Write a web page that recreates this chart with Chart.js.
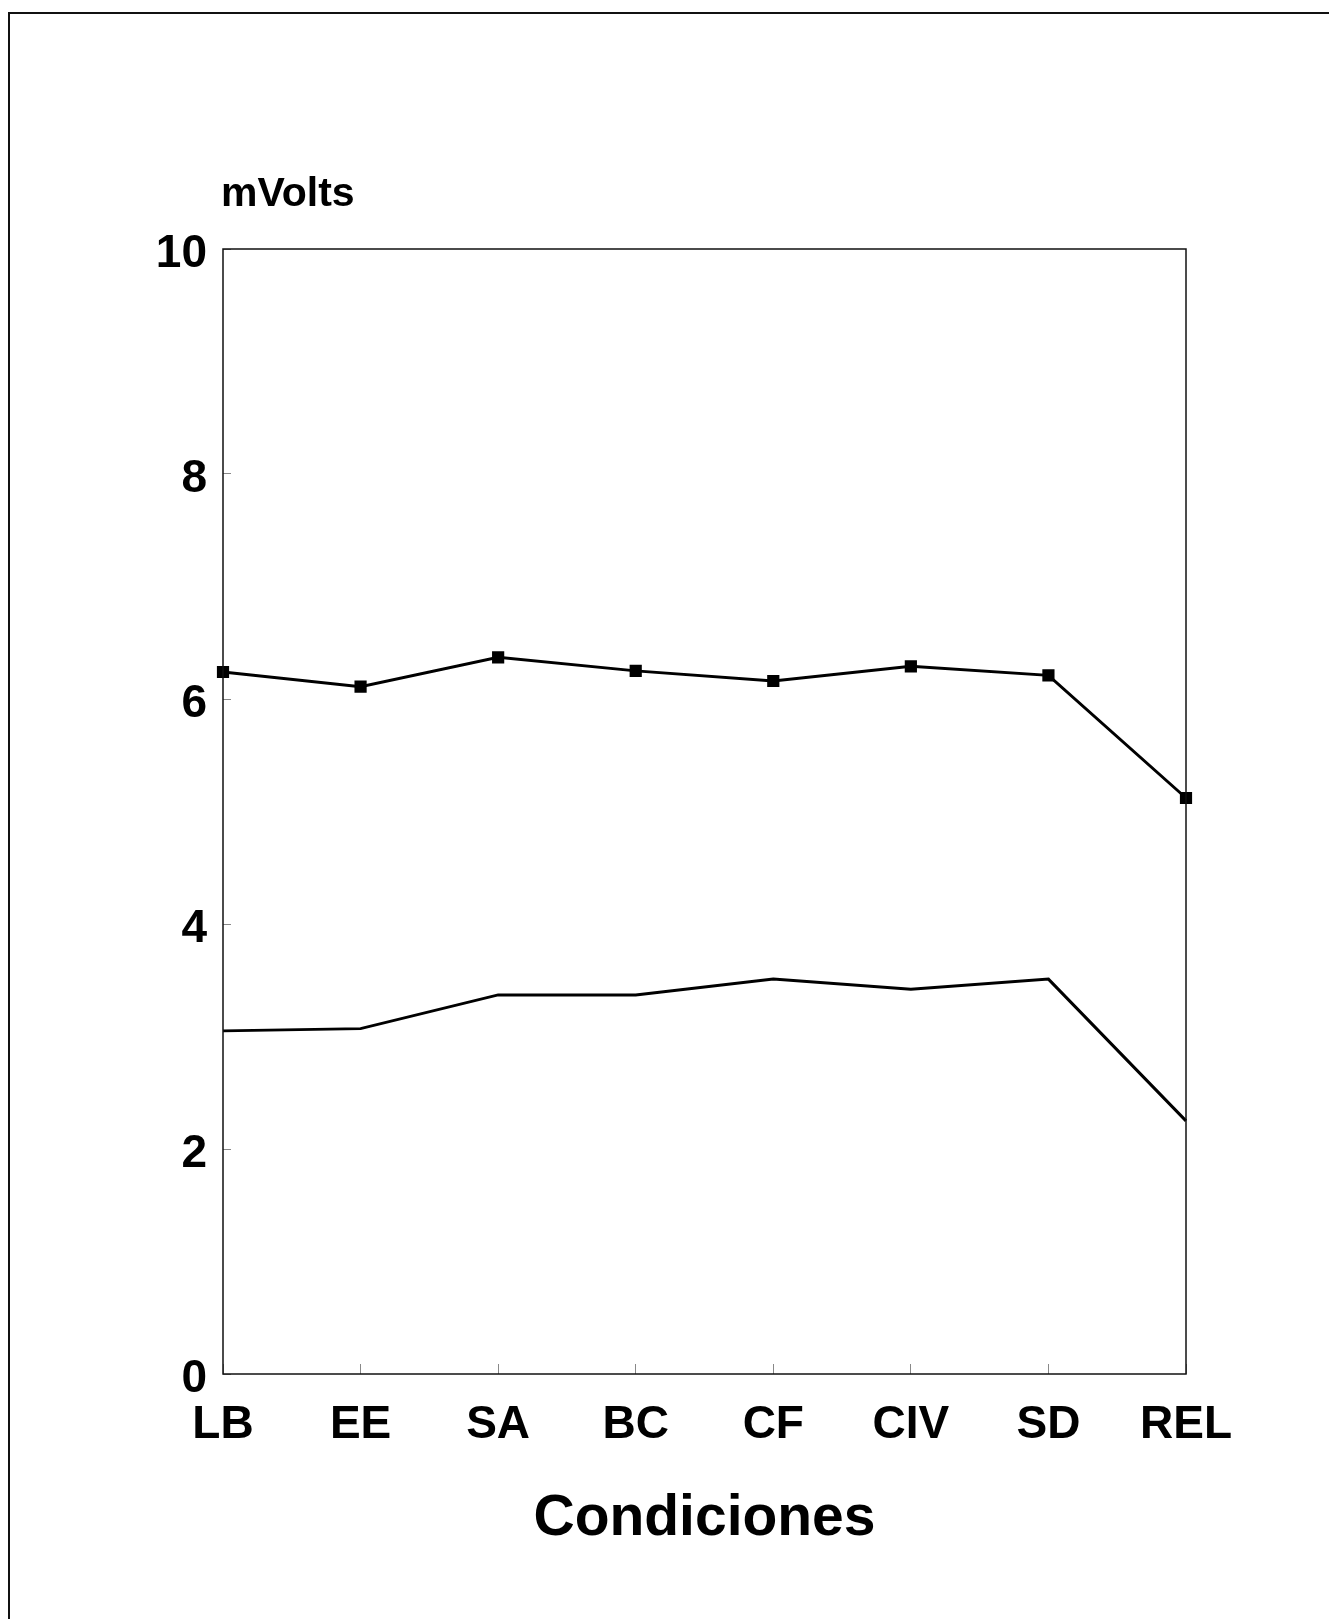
<!DOCTYPE html>
<html>
<head>
<meta charset="utf-8">
<script src="https://cdn.jsdelivr.net/npm/chart.js@4.4.1/dist/chart.umd.min.js"></script>
<style>
  html, body { margin: 0; padding: 0; background: #fff; }
  #wrap { position: relative; width: 1329px; height: 1619px; }
  #frame { position: absolute; left: 8px; top: 12px; right: 0; bottom: 0; border-left: 2px solid #111; border-top: 2px solid #111; pointer-events: none; }
  canvas { position: absolute; left: 0; top: 0; }
</style>
</head>
<body>
<div id="wrap">
  <canvas id="c" width="1329" height="1619"></canvas>
  <div id="frame"></div>
</div>
<script>
const categories = ['LB', 'EE', 'SA', 'BC', 'CF', 'CIV', 'SD', 'REL'];
const upperSeries = [6.24, 6.11, 6.37, 6.25, 6.16, 6.29, 6.21, 5.12];
const lowerSeries = [3.05, 3.07, 3.37, 3.37, 3.51, 3.42, 3.51, 2.25];
const yTicks = [0, 2, 4, 6, 8, 10];
const yUnitLabel = 'mVolts';
const xAxisTitle = 'Condiciones';

const FONT = "'Liberation Sans', Arial, Helvetica, sans-serif";

const framePlugin = {
  id: 'frameAndUnit',
  afterDraw(chart) {
    const { ctx, chartArea } = chart;
    ctx.save();
    ctx.strokeStyle = '#111';
    ctx.lineWidth = 1.5;
    ctx.strokeRect(chartArea.left, chartArea.top, chartArea.right - chartArea.left, chartArea.bottom - chartArea.top);
    ctx.fillStyle = '#000';
    ctx.font = 'bold 41px ' + FONT;
    ctx.textAlign = 'left';
    ctx.textBaseline = 'middle';
    ctx.fillText(yUnitLabel, chartArea.left - 2, chartArea.top - 54);
    ctx.restore();
  }
};

new Chart(document.getElementById('c'), {
  type: 'line',
  data: {
    labels: categories,
    datasets: [
      {
        data: upperSeries,
        borderColor: '#000',
        backgroundColor: '#000',
        borderWidth: 3,
        pointStyle: 'rect',
        pointRadius: 6.5,
        pointBackgroundColor: '#000',
        pointBorderColor: '#000',
        tension: 0,
        clip: false
      },
      {
        data: lowerSeries,
        borderColor: '#000',
        borderWidth: 3,
        pointRadius: 0,
        tension: 0,
        clip: false
      }
    ]
  },
  options: {
    responsive: false,
    animation: false,
    devicePixelRatio: 1,
    layout: { padding: { left: 0, right: 143, top: 249, bottom: 0 } },
    plugins: { legend: { display: false }, tooltip: { enabled: false }, title: { display: false } },
    scales: {
      x: {
        type: 'category',
        offset: false,
        border: { display: false },
        grid: { display: true, drawOnChartArea: false, drawTicks: true, tickLength: -10, color: '#888', lineWidth: 1 },
        ticks: { color: '#000', font: { family: FONT, size: 46, weight: 'bold' }, padding: 34, maxRotation: 0, autoSkip: false },
        title: { display: true, text: xAxisTitle, color: '#000', font: { family: FONT, size: 57, weight: 'bold' }, padding: { top: 0, bottom: 66 } },
        afterFit(scale) { scale.height = 1619 - 1374; }
      },
      y: {
        min: 0,
        max: 10,
        border: { display: false },
        afterBuildTicks(scale) { scale.ticks = yTicks.map(v => ({ value: v })); },
        grid: { display: true, drawOnChartArea: false, drawTicks: true, tickLength: -8, color: '#888', lineWidth: 1 },
        ticks: { color: '#000', font: { family: FONT, size: 46, weight: 'bold' }, padding: 24, labelOffset: 5 },
        afterFit(scale) { scale.width = 223; }
      }
    }
  },
  plugins: [framePlugin]
});
</script>
</body>
</html>
